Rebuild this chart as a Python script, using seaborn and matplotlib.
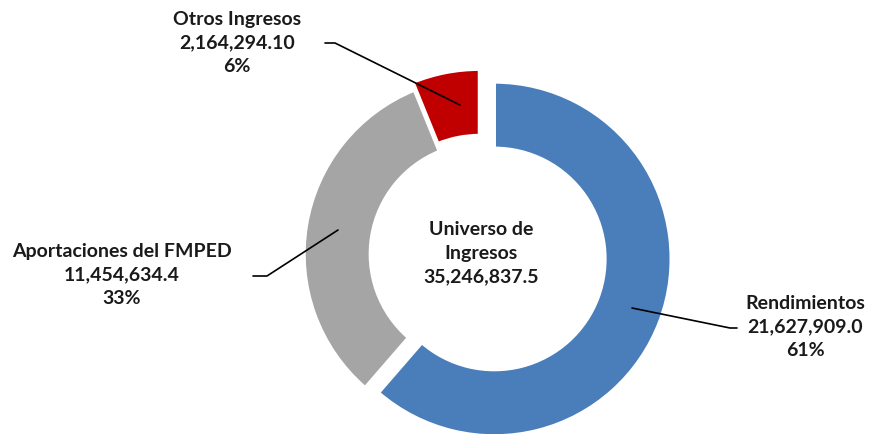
import matplotlib
matplotlib.use("Agg")
import matplotlib.pyplot as plt
import seaborn as sns

# Datos
categorias = ["Rendimientos", "Aportaciones del FMPED", "Otros Ingresos"]
valores = [21627909.0, 11454634.4, 2164294.10]
etiquetas_valor = ["21,627,909.0", "11,454,634.4", "2,164,294.10"]
porcentajes = ["61%", "33%", "6%"]
titulo_centro = "Universo de\nIngresos"
total_etiqueta = "35,246,837.5"

colores = sns.color_palette(["#4A7EBB", "#A5A5A5", "#C00000"])

sns.set_theme(style="white")
plt.rcParams['font.family'] = ['Lato', 'DejaVu Sans']

W, H = 873, 434
fig = plt.figure(figsize=(W / 100, H / 100), dpi=100)

# geometria de la dona en pixeles de la imagen
cx, cy, R = 481, 254, 177
S = 1.3
ax = fig.add_axes([(cx - S * R) / W, (H - cy - S * R) / H, 2 * S * R / W, 2 * S * R / H])
ax.pie(valores, colors=colores, startangle=90, counterclock=False,
       explode=[0.08, 0.0, 0.045], radius=1,
       wedgeprops=dict(width=0.375, edgecolor="white", linewidth=2.5))
ax.set_xlim(-S, S)
ax.set_ylim(-S, S)
ax.set_aspect('auto')
ax.axis('off')

# capa para textos y lineas guia (coordenadas de imagen)
ov = fig.add_axes([0, 0, 1, 1])
ov.set_xlim(0, W)
ov.set_ylim(H, 0)
ov.axis('off')
ov.patch.set_alpha(0)

txt = dict(fontsize=14, fontweight="bold", color="#1a1a1a",
           ha="center", va="center", linespacing=1.45)

pos_etiquetas = [(805, 327), (122, 275), (237, 43)]
lineas = [
    [(632, 308), (730, 328), (737, 328)],
    [(253, 276), (267, 276), (338, 230)],
    [(325, 43), (335, 43), (460, 105)],
]

for i in range(len(categorias)):
    x, y = pos_etiquetas[i]
    ov.text(x, y, f"{categorias[i]}\n{etiquetas_valor[i]}\n{porcentajes[i]}", **txt)
    xs = [p[0] for p in lineas[i]]
    ys = [p[1] for p in lineas[i]]
    ov.plot(xs, ys, color="black", lw=1.2)

ov.text(cx, cy - 1, f"{titulo_centro}\n{total_etiqueta}", **txt)

fig.savefig("out.png", dpi=100)
